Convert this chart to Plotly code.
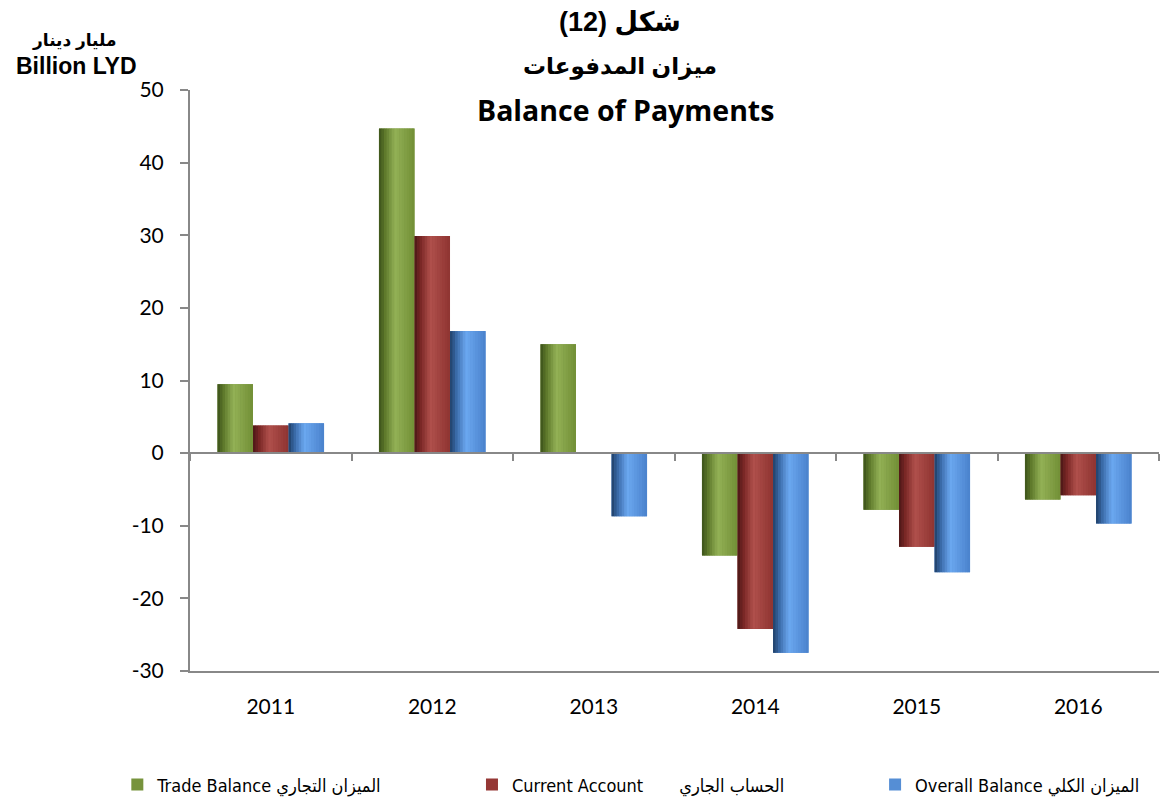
import plotly.graph_objects as go

# ---------------- data ----------------
years = ["2011", "2012", "2013", "2014", "2015", "2016"]
trade_balance = [9.5, 44.7, 15.0, -14.1, -7.8, -6.4]
current_account = [3.8, 29.9, None, -24.2, -12.9, -5.8]
overall_balance = [4.1, 16.8, -8.7, -27.5, -16.4, -9.7]
series_names = [
    "Trade Balance الميزان التجاري",
    "Current Account" + "\u00a0" * 7 + "الحساب الجاري",
    "Overall Balance الميزان الكلي",
]
y_tick_values = [-30, -20, -10, 0, 10, 20, 30, 40, 50]
y_tick_text = [str(v) for v in y_tick_values]
y_range = [-30, 50]

# ---------------- styles ----------------
base_colors = ["#77933c", "#953735", "#558ed5"]
# horizontal gradient stops (position across bar, hex color)
gradients = [
    [(0.0, "#3b5119"), (0.18, "#5f7a2c"), (0.45, "#93b156"), (1.0, "#728f36")],
    [(0.0, "#4a1716"), (0.18, "#7a2826"), (0.45, "#b0504c"), (1.0, "#8e3431")],
    [(0.0, "#1f3e66"), (0.18, "#3a6aa8"), (0.45, "#6ba8f0"), (1.0, "#4a82cc")],
]
axis_color = "#888888"
group_width = 0.66
n_strips = 14
legend_x = [-0.075, 0.291, 0.707]
title_x = 0.444


def hex_to_rgb(h):
    h = h.lstrip("#")
    return tuple(int(h[i:i + 2], 16) for i in (0, 2, 4))


def grad_color(stops, t):
    for (t0, c0), (t1, c1) in zip(stops[:-1], stops[1:]):
        if t0 <= t <= t1:
            f = (t - t0) / (t1 - t0) if t1 > t0 else 0
            a, b = hex_to_rgb(c0), hex_to_rgb(c1)
            r = [round(a[k] + (b[k] - a[k]) * f) for k in range(3)]
            return f"rgb({r[0]},{r[1]},{r[2]})"
    return stops[-1][1]


series_values = [trade_balance, current_account, overall_balance]
bar_w = group_width / len(series_values)

fig = go.Figure()

# base bars (carry the legend entries)
for i, (vals, name) in enumerate(zip(series_values, series_names)):
    left = -group_width / 2 + i * bar_w
    fig.add_trace(go.Bar(
        x=years, y=vals, name=name,
        offset=left, width=bar_w,
        marker=dict(color=base_colors[i], line=dict(width=0)),
        legend="legend" if i == 0 else f"legend{i + 1}",
        hovertemplate="%{x}: %{y}<extra>" + name + "</extra>",
    ))

# gradient strips on top of each bar
for i, vals in enumerate(series_values):
    left = -group_width / 2 + i * bar_w
    sw = bar_w / n_strips
    for j in range(n_strips):
        t = (j + 0.5) / n_strips
        fig.add_trace(go.Bar(
            x=years, y=vals,
            offset=left + j * sw,
            width=sw * (1.0 if j == n_strips - 1 else 1.15),
            marker=dict(color=grad_color(gradients[i], t), line=dict(width=0)),
            showlegend=False, hoverinfo="skip",
        ))

# invisible trace to activate the zero-line category axis
fig.add_trace(go.Scatter(
    x=list(range(len(years))), y=trade_balance, xaxis="x2",
    mode="none", showlegend=False, hoverinfo="skip",
))

zero_pos = (0 - y_range[0]) / (y_range[1] - y_range[0])

legend_common = dict(
    orientation="h", y=-0.196, yanchor="middle", xanchor="left",
    bgcolor="rgba(0,0,0,0)",
    font=dict(family="Liberation Sans Narrow, DejaVu Sans Condensed, Arial Narrow, DejaVu Sans, sans-serif",
              size=18, color="#000000"),
    itemwidth=30,
)

fig.update_layout(
    width=1172, height=802,
    # the page body adds an 8px offset, compensated here
    margin=dict(l=182, r=21, t=82, b=139, autoexpand=False),
    paper_bgcolor="white", plot_bgcolor="white",
    barmode="overlay",
    showlegend=True,
    legend=dict(x=legend_x[0], **legend_common),
    legend2=dict(x=legend_x[1], **legend_common),
    legend3=dict(x=legend_x[2], **legend_common),
    xaxis=dict(
        type="category", categoryorder="array", categoryarray=years,
        range=[-0.5, len(years) - 0.5],
        showline=True, linecolor=axis_color, linewidth=2,
        ticks="", showgrid=False, zeroline=False,
        tickfont=dict(family="Lato, Open Sans, sans-serif", size=21, color="#000000"),
        ticklabelstandoff=16,
    ),
    xaxis2=dict(
        overlaying="x", anchor="free", position=zero_pos, side="bottom",
        range=[-0.5, len(years) - 0.5],
        tickvals=[k - 0.5 for k in range(len(years) + 1)],
        ticks="outside", ticklen=7, tickwidth=2, tickcolor=axis_color,
        showline=True, linecolor=axis_color, linewidth=2,
        showticklabels=False, showgrid=False, zeroline=False,
    ),
    yaxis=dict(
        range=y_range, tickvals=y_tick_values, ticktext=y_tick_text,
        showline=True, linecolor=axis_color, linewidth=2,
        ticks="outside", ticklen=8, tickwidth=2, tickcolor=axis_color,
        showgrid=False, zeroline=False,
        tickfont=dict(family="Lato, Open Sans, sans-serif", size=21, color="#000000"),
        ticklabelstandoff=12,
    ),
    annotations=[
        dict(text="<b>شكل (12)</b>", x=title_x, y=1.117, xref="paper", yref="paper",
             showarrow=False, xanchor="center", yanchor="middle",
             font=dict(family="Liberation Sans, DejaVu Sans, sans-serif", size=27, color="#000000")),
        dict(text="<b>ميزان المدفوعات</b>", x=title_x, y=1.041, xref="paper", yref="paper",
             showarrow=False, xanchor="center", yanchor="middle",
             font=dict(family="Liberation Sans, DejaVu Sans, sans-serif", size=23, color="#000000")),
        dict(text="<b>Balance of Payments</b>", x=title_x + 0.005, y=0.966, xref="paper", yref="paper",
             showarrow=False, xanchor="center", yanchor="middle",
             font=dict(family="Open Sans, Lato, sans-serif", size=28.5, color="#000000")),
        dict(text="<b>مليار دينار</b>", x=-0.119, y=1.086, xref="paper", yref="paper",
             showarrow=False, xanchor="center", yanchor="middle",
             font=dict(family="Liberation Sans, DejaVu Sans, sans-serif", size=17, color="#000000")),
        dict(text="<b>Billion LYD</b>", x=-0.117, y=1.041, xref="paper", yref="paper",
             showarrow=False, xanchor="center", yanchor="middle",
             font=dict(family="Liberation Sans, Arial, sans-serif", size=23, color="#000000")),
    ],
)

fig.write_html("out.html")
